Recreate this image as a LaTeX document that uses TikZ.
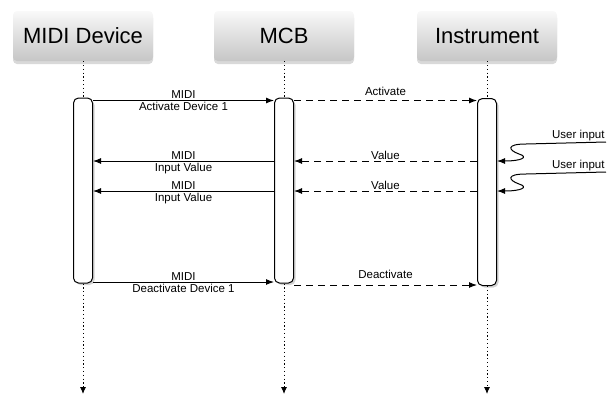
\documentclass[tikz,border=0pt]{standalone}
\usepackage{fontspec}
\setmainfont{Liberation Sans}
\usetikzlibrary{calc, positioning, arrows.meta, shadows}

\begin{document}
\begin{tikzpicture}[x=1pt, y=-1pt,
  actor/.style={rectangle, rounded corners=4pt, minimum width=140pt,
                minimum height=50pt, top color=gray!5, bottom color=gray!45,
                font=\fontsize{22}{26}\selectfont,
                drop shadow={shadow xshift=0pt, shadow yshift=-3pt, opacity=.3}},
  bar/.style={draw, line width=1pt, rectangle, rounded corners=5pt, fill=white,
              minimum width=19pt, inner sep=0pt,
              drop shadow={shadow xshift=2pt, shadow yshift=-2pt, opacity=.35}},
  life/.style={line width=0.9pt, dash pattern=on 1.2pt off 2.6pt},
  msg/.style={line width=1pt, -{Latex[length=8pt, width=6pt]}},
  reply/.style={msg, dash pattern=on 7pt off 5pt},
  lbl/.style={font=\fontsize{11.5}{13}\selectfont, inner sep=1.2pt}
]
\useasboundingbox (0,0) rectangle (611,397);

% actors
\node[actor] (dev)  at (83,36)  {MIDI Device};
\node[actor] (mcb)  at (284,36) {MCB};
\node[actor] (inst) at (487,36) {Instrument};

% activation bars
\node[bar, minimum height=185pt] (devbar)  at (83,190.5)  {};
\node[bar, minimum height=185pt] (mcbbar)  at (284,190.5) {};
\node[bar, minimum height=187pt] (instbar) at (487,192) {};

% lifelines
\coordinate (devend)  at (83,394);
\coordinate (mcbend)  at (284,394);
\coordinate (instend) at (487,394);
\foreach \a in {dev, mcb, inst} {
  \draw[life] (\a.south) -- (\a bar.north);
  \draw[life, -{Latex[length=7pt, width=6pt]}] (\a bar.south) -- (\a end);
}

% message rows
\coordinate (r1) at (0,100.5);
\coordinate (r2) at (0,161);
\coordinate (r3) at (0,191);
\coordinate (r4) at (0,282);
\coordinate (r5) at (0,285);

\draw[msg] (devbar.east |- r1) -- (mcbbar.west |- r1)
  node[lbl, midway, above] {MIDI}
  node[lbl, midway, below] {Activate Device 1};
\draw[reply] (mcbbar.east |- r1) -- (instbar.west |- r1)
  node[lbl, midway, above=3pt] {Activate};

\draw[reply] (instbar.west |- r2) -- (mcbbar.east |- r2)
  node[lbl, midway, above] {Value};
\draw[msg] (mcbbar.west |- r2) -- (devbar.east |- r2)
  node[lbl, midway, above] {MIDI}
  node[lbl, midway, below] {Input Value};

\draw[reply] (instbar.west |- r3) -- (mcbbar.east |- r3)
  node[lbl, midway, above] {Value};
\draw[msg] (mcbbar.west |- r3) -- (devbar.east |- r3)
  node[lbl, midway, above] {MIDI}
  node[lbl, midway, below] {Input Value};

\draw[msg] (devbar.east |- r4) -- (mcbbar.west |- r4)
  node[lbl, midway, above] {MIDI}
  node[lbl, midway, below] {Deactivate Device 1};
\draw[reply] (mcbbar.east |- r5) -- (instbar.west |- r5)
  node[lbl, midway, above=5pt] {Deactivate};

% user input from outside
\node[lbl, anchor=south east] (ui1) at (606,142) {User input};
\node[lbl, anchor=south east] (ui2) at (606,172) {User input};
\draw[msg] (ui1.south east) -- (526,144)
  .. controls (506,144) and (508,150) .. (519,154)
  .. controls (529,157) and (522,161) .. (instbar.east |- r2);
\draw[msg] (ui2.south east) -- (526,174)
  .. controls (506,174) and (508,180) .. (519,184)
  .. controls (529,187) and (522,191) .. (instbar.east |- r3);

\end{tikzpicture}
\end{document}
